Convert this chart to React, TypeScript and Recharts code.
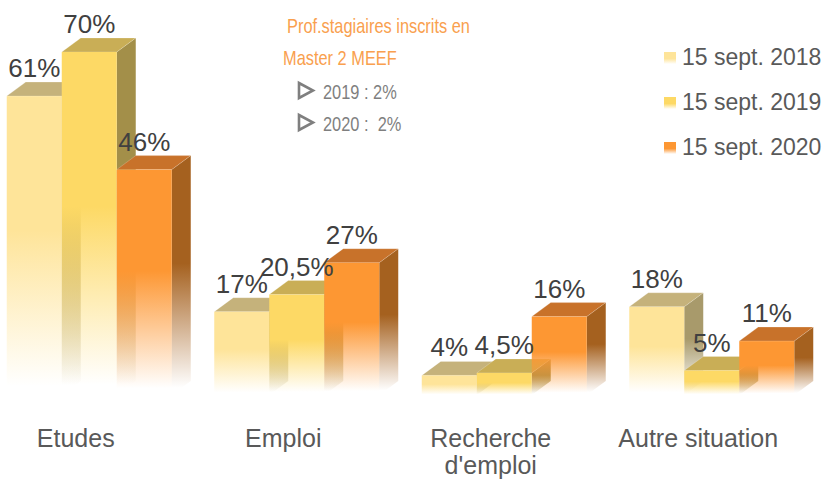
import { BarChart, Bar, XAxis, YAxis, Legend } from 'recharts';

const categories = ['Etudes', 'Emploi', "Recherche d'emploi", 'Autre situation'];
const sept2018 = [61, 17, 4, 18];
const sept2019 = [70, 20.5, 4.5, 5];
const sept2020 = [46, 27, 16, 11];
const seriesNames = ['15 sept. 2018', '15 sept. 2019', '15 sept. 2020'];

const noteTitle = ['Prof.stagiaires inscrits en', 'Master 2 MEEF'];
const noteItems = ['2019 : 2%', '2020 :  2%'];

const data = categories.map((name, i) => ({
  name,
  s2018: sept2018[i],
  s2019: sept2019[i],
  s2020: sept2020[i],
}));

// front / top / side colours for each series
const palette = [
  { key: 's2018', front: '#FEE499', top: '#C5B27B', side: '#A89A6B' },
  { key: 's2019', front: '#FDD965', top: '#C9AE56', side: '#A38F49' },
  { key: 's2020', front: '#FD9733', top: '#C8722A', side: '#A5611F' },
];

const DX = 19;
const DY = 14;
const FONT = "'Liberation Sans', Arial, sans-serif";
const NARROW = 0.82; // Arial Narrow look, no narrow font installed

const fmt = (v: number) => String(v).replace('.', ',') + '%';

// greedy word wrap on character count
const wrap = (s: string, max = 16) => {
  const lines: string[] = [];
  let cur = '';
  s.split(' ').forEach((w) => {
    const next = cur ? cur + ' ' + w : w;
    if (next.length > max && cur) {
      lines.push(cur);
      cur = w;
    } else cur = next;
  });
  if (cur) lines.push(cur);
  return lines;
};

const box = (idx: number) => (props: any) => {
  const { x, y, width: w, height: h } = props;
  const c = palette[idx];
  if (h == null || w == null) return null;
  return (
    <g>
      <path
        d={`M${x + w},${y} L${x + w + DX},${y - DY} L${x + w + DX},${y + h - DY} L${x + w},${y + h} Z`}
        fill={`url(#side${idx})`}
      />
      <path
        d={`M${x},${y} L${x + DX},${y - DY} L${x + w + DX},${y - DY} L${x + w},${y} Z`}
        fill={c.top}
        stroke="rgba(255,255,255,0.35)"
        strokeWidth={0.6}
      />
      <rect x={x} y={y} width={w} height={h} fill={`url(#front${idx})`} />
    </g>
  );
};

const valueLabel = (props: any) => {
  const { x, y, width, value } = props;
  return (
    <text
      x={x + width / 2}
      y={y - DY - 5}
      textAnchor="middle"
      fontSize={26}
      fontFamily={FONT}
      fill="#404040"
    >
      {fmt(value)}
    </text>
  );
};

const CategoryTick = (props: any) => {
  const { x, y, payload } = props;
  const lines = wrap(String(payload.value));
  return (
    <text x={x - 14} y={y + 52} textAnchor="middle" fontSize={25} fontFamily={FONT} fill="#595959">
      {lines.map((l, i) => (
        <tspan key={i} x={x - 14} dy={i === 0 ? 0 : 27}>
          {l}
        </tspan>
      ))}
    </text>
  );
};

const LegendBox = () => (
  <div style={{ fontFamily: FONT, fontSize: 23, color: '#595959' }}>
    {seriesNames.map((n, i) => (
      <div key={n} style={{ height: 45, display: 'flex', alignItems: 'center', whiteSpace: 'nowrap' }}>
        <span
          style={{
            display: 'inline-block',
            width: 12,
            height: 12,
            marginRight: 6,
            background: `linear-gradient(to bottom, ${palette[i].front} 0%, ${palette[i].front} 55%, rgba(255,255,255,0.6) 100%)`,
          }}
        />
        {n}
      </div>
    ))}
  </div>
);

export default function App() {
  return (
    <div style={{ position: 'absolute', left: 0, top: 0, width: 827, height: 479, overflow: 'hidden', background: '#fff' }}>
      <div style={{ position: 'absolute', left: -14, top: 0 }}>
        <BarChart
          width={841}
          height={479}
          data={data}
          margin={{ top: 52, right: 11, left: 0, bottom: 24 }}
          barCategoryGap={20.75}
          barGap={0}
          style={{ fontFamily: FONT }}
        >
          <defs>
            {palette.map((c, i) => (
              <linearGradient key={'f' + i} id={`front${i}`} x1="0" y1="0" x2="0" y2="1">
                <stop offset="0" stopColor={c.front} stopOpacity={1} />
                <stop offset="0.45" stopColor={c.front} stopOpacity={1} />
                <stop offset="0.97" stopColor={c.front} stopOpacity={0} />
              </linearGradient>
            ))}
            {palette.map((c, i) => (
              <linearGradient key={'s' + i} id={`side${i}`} x1="0" y1="0" x2="0" y2="1">
                <stop offset="0" stopColor={c.side} stopOpacity={1} />
                <stop offset="0.45" stopColor={c.side} stopOpacity={1} />
                <stop offset="0.97" stopColor={c.side} stopOpacity={0} />
              </linearGradient>
            ))}
          </defs>
          <XAxis
            dataKey="name"
            axisLine={false}
            tickLine={false}
            tickSize={0}
            tickMargin={0}
            height={60}
            interval={0}
            tick={<CategoryTick />}
          />
          <YAxis hide domain={[0, 70]} />
          <Legend
            layout="vertical"
            align="center"
            verticalAlign="middle"
            wrapperStyle={{ top: 35, left: 678, width: 'auto' }}
            content={<LegendBox />}
          />
          {palette.map((c, i) => (
            <Bar
              key={c.key}
              dataKey={c.key}
              name={seriesNames[i]}
              fill={c.front}
              shape={box(i)}
              label={valueLabel}
              isAnimationActive={false}
            />
          ))}
        </BarChart>
      </div>
      <svg
        width={827}
        height={479}
        style={{ position: 'absolute', left: 0, top: 0, pointerEvents: 'none' }}
      >
        <text transform={`translate(287,33) scale(${NARROW},1)`} fontSize={20} fontFamily={FONT} fill="#F9A04E">
          {noteTitle[0]}
        </text>
        <text transform={`translate(283,65) scale(${NARROW},1)`} fontSize={20} fontFamily={FONT} fill="#F9A04E">
          {noteTitle[1]}
        </text>
        {noteItems.map((t, i) => (
          <g key={t}>
            <polygon
              points={`${299},${83 + i * 32} ${299},${98 + i * 32} ${313},${90.5 + i * 32}`}
              fill="none"
              stroke="#7F7F7F"
              strokeWidth={2.6}
              strokeLinejoin="miter"
            />
            <text
              transform={`translate(323,98.5) translate(0,${i * 32}) scale(${NARROW},1)`}
              fontSize={20}
              fontFamily={FONT}
              fill="#7F7F7F"
              style={{ whiteSpace: 'pre' }}
            >
              {t}
            </text>
          </g>
        ))}
      </svg>
    </div>
  );
}
